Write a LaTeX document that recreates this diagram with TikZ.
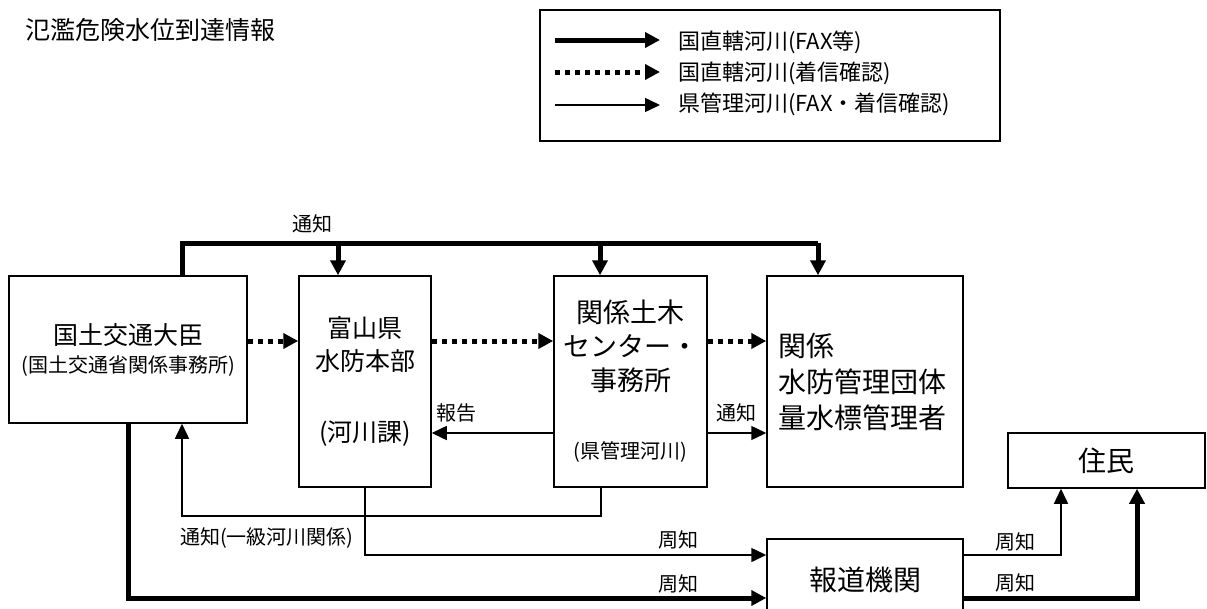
\documentclass[tikz,border=0pt]{standalone}
\usepackage{fontspec}
\setmainfont{Noto Sans CJK JP}
\usetikzlibrary{arrows.meta}

\begin{document}
\begin{tikzpicture}[x=1pt, y=-1pt,
	box/.style={draw=black, line width=1.5pt, inner sep=0pt, align=center},
	fatlink/.style={draw=black, line width=5pt, -{Triangle[length=15pt,width=15pt]}},
	dotlink/.style={draw=black, line width=5pt, dash pattern=on 5pt off 5pt, -{Triangle[length=15pt,width=15pt]}},
	slimlink/.style={draw=black, line width=1.5pt, -{Triangle[length=15pt,width=14pt]}},
	lbl/.style={black, inner sep=0pt, font=\fontsize{20}{24}\selectfont}]
	\useasboundingbox (0,0) rectangle (1207,608);
	\clip (0,0) rectangle (1207,608);
	% title and legend
	\node[black, anchor=west, inner sep=0pt, font=\fontsize{25}{30}\selectfont] (title) at (25,30) {氾濫危険水位到達情報};
	\draw[draw=black, line width=1.5pt] (540,10) rectangle (1000,141);
	\draw[fatlink] (555,40) -- (660,40);
	\draw[dotlink] (555,72) -- (660,72);
	\draw[slimlink] (555,105) -- (660,105);
	\node[black, anchor=west, inner sep=0pt, font=\fontsize{22}{26}\selectfont] (key1) at (678,42) {国直轄河川(FAX等)};
	\node[black, anchor=west, inner sep=0pt, font=\fontsize{22}{26}\selectfont] (key2) at (678,73) {国直轄河川(着信確認)};
	\node[black, anchor=west, inner sep=0pt, font=\fontsize{22}{26}\selectfont] (key3) at (678,104) {県管理河川(FAX・着信確認)};
	% boxes
	\node[box, minimum width=238pt, minimum height=147pt, font=\fontsize{25}{30}\selectfont] (minister) at (128,349.5)
		{国土交通大臣\\[-2pt]{\fontsize{20}{24}\selectfont (国土交通省関係事務所)}};
	\node[box, minimum width=132pt, minimum height=211pt, font=\fontsize{25}{33}\selectfont] (hq) at (365,381.5)
		{富山県\\水防本部\\[38pt](河川課)};
	\node[box, minimum width=153pt, minimum height=211pt, font=\fontsize{27}{34}\selectfont] (center) at (630.5,381.5)
		{関係土木\\センター・\\事務所\\[34pt]{\fontsize{20}{24}\selectfont (県管理河川)}};
	\node[box, align=left, text width=174pt, inner xsep=11pt, minimum height=211pt, font=\fontsize{28}{36}\selectfont] (bodies) at (865,381.5)
		{関係\\水防管理団体\\量水標管理者};
	\node[box, minimum width=196pt, minimum height=82pt, font=\fontsize{28}{34}\selectfont] (press) at (865,580) {報道機関};
	\node[box, minimum width=197pt, minimum height=55pt, font=\fontsize{28}{34}\selectfont] (residents) at (1106.5,460.5) {住民};
	% rows and bends
	\coordinate (busL) at (182,243);
	\coordinate (busR) at (818,243);
	\coordinate (toHq) at (338,243);
	\coordinate (toCenter) at (600,243);
	\coordinate (dots) at (0,341);
	\coordinate (rep) at (0,433);
	\coordinate (upL) at (182,516);
	\coordinate (upR) at (601,516);
	\coordinate (low1) at (0,555);
	\coordinate (low2) at (0,598);
	\coordinate (up1) at (1061,0);
	\coordinate (up2) at (1137,0);
	% national notices
	\draw[draw=black, line width=5pt] (minister.north -| busL) -- (busL) -- (busR);
	\draw[fatlink] (toHq) -- (toHq |- hq.north);
	\draw[fatlink] (toCenter) -- (toCenter |- center.north);
	\draw[fatlink] (busR) -- (busR |- bodies.north);
	\node[lbl] (n1) at (312,224) {通知};
	\draw[dotlink] (minister.east |- dots) -- (hq.west |- dots);
	\draw[dotlink] (hq.east |- dots) -- (center.west |- dots);
	\draw[dotlink] (center.east |- dots) -- (bodies.west |- dots);
	% prefecture notices
	\draw[slimlink] (center.west |- rep) -- (hq.east |- rep);
	\node[lbl] (n2) at (456,413) {報告};
	\draw[slimlink] (center.east |- rep) -- (bodies.west |- rep);
	\node[lbl] (n3) at (736,413) {通知};
	\draw[slimlink] (center.south -| upR) -- (upR) -- (upL) -- (upL |- minister.south);
	\node[lbl, anchor=west] (n4) at (180,538) {通知(一級河川関係)};
	% public notices
	\draw[slimlink] (hq.south) |- (press.west |- low1);
	\node[lbl] (n5) at (678,540) {周知};
	\draw[fatlink] (minister.south) |- (press.west |- low2);
	\node[lbl] (n6) at (678,584) {周知};
	\draw[slimlink] (press.east |- low1) -| (up1 |- residents.south);
	\node[lbl] (n7) at (1015,542) {周知};
	\draw[fatlink] (press.east |- low2) -| (up2 |- residents.south);
	\node[lbl] (n8) at (1015,583) {周知};
\end{tikzpicture}
\end{document}
